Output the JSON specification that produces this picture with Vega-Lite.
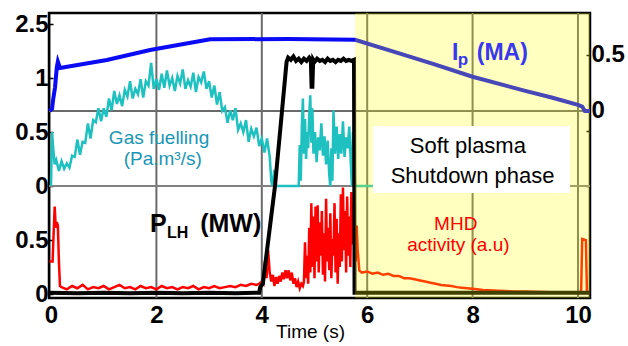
{
  "$schema": "https://vega.github.io/schema/vega-lite/v6.json",
  "width": 541,
  "height": 285,
  "autosize": {"type": "none"},
  "padding": {"left": 49, "top": 13, "right": 38, "bottom": 48},
  "background": "white",
  "config": {
    "view": {"stroke": "#000000", "strokeWidth": 2.5},
    "font": "Liberation Sans",
    "axis": {"labelFont": "Liberation Sans", "titleFont": "Liberation Sans", "labelOverlap": false, "labelFlush": false}
  },
  "datasets": {
    "gas": [
      {"t":0,"g":0},{"t":0.02,"g":0.5},{"t":0.04,"g":0.36},{"t":0.07,"g":0.2},
      {"t":0.10,"g":0.24},{"t":0.15,"g":0.14},{"t":0.20,"g":0.23},{"t":0.25,"g":0.16},{"t":0.30,"g":0.21},{"t":0.35,"g":0.17},{"t":0.40,"g":0.28},{"t":0.45,"g":0.27},{"t":0.50,"g":0.43},{"t":0.55,"g":0.29},
      {"t":0.60,"g":0.41},{"t":0.65,"g":0.40},{"t":0.70,"g":0.58},{"t":0.75,"g":0.44},{"t":0.80,"g":0.61},{"t":0.85,"g":0.59},{"t":0.90,"g":0.72},{"t":0.95,"g":0.60},{"t":1.00,"g":0.72},{"t":1.05,"g":0.64},
      {"t":1.10,"g":0.81},{"t":1.15,"g":0.70},{"t":1.20,"g":0.88},{"t":1.25,"g":0.76},{"t":1.30,"g":0.84},{"t":1.35,"g":0.74},{"t":1.40,"g":0.89},{"t":1.45,"g":0.83},{"t":1.50,"g":0.97},{"t":1.55,"g":0.81},
      {"t":1.60,"g":0.90},{"t":1.65,"g":0.85},{"t":1.70,"g":0.99},{"t":1.75,"g":0.82},{"t":1.80,"g":0.97},{"t":1.85,"g":0.93},{"t":1.90,"g":1.14},{"t":1.95,"g":0.90},{"t":2.00,"g":0.99},{"t":2.05,"g":0.89},
      {"t":2.10,"g":1.04},{"t":2.15,"g":0.91},{"t":2.20,"g":1.07},{"t":2.25,"g":0.93},{"t":2.30,"g":1.00},{"t":2.35,"g":0.88},{"t":2.40,"g":1.02},{"t":2.45,"g":0.95},{"t":2.50,"g":1.08},{"t":2.55,"g":0.90},
      {"t":2.60,"g":0.98},{"t":2.65,"g":0.92},{"t":2.70,"g":1.05},{"t":2.75,"g":0.87},{"t":2.80,"g":1.01},{"t":2.85,"g":0.96},{"t":2.90,"g":1.06},{"t":2.95,"g":0.90},{"t":3.00,"g":0.97},{"t":3.05,"g":0.82},
      {"t":3.10,"g":0.93},{"t":3.15,"g":0.755},{"t":3.20,"g":0.87},{"t":3.25,"g":0.695},{"t":3.30,"g":0.73},{"t":3.35,"g":0.585},{"t":3.40,"g":0.70},{"t":3.45,"g":0.61},{"t":3.50,"g":0.72},{"t":3.55,"g":0.52},
      {"t":3.60,"g":0.58},{"t":3.65,"g":0.50},{"t":3.70,"g":0.61},{"t":3.75,"g":0.41},{"t":3.80,"g":0.53},{"t":3.85,"g":0.46},{"t":3.90,"g":0.54},{"t":3.95,"g":0.37},{"t":4.00,"g":0.44},{"t":4.05,"g":0.31},
      {"t":4.10,"g":0.44},{"t":4.15,"g":0.27},{"t":4.18,"g":0.05},{"t":4.20,"g":0},{"t":4.24,"g":0.15},{"t":4.27,"g":0},{"t":4.70,"g":0},
      {"t":4.72,"g":0.38},{"t":4.74,"g":0.05},{"t":4.76,"g":0.55},{"t":4.78,"g":0.81},{"t":4.80,"g":0.3},{"t":4.82,"g":0.62},{"t":4.84,"g":0.25},{"t":4.86,"g":0.5},{"t":4.88,"g":0.35},{"t":4.90,"g":0.66},
      {"t":4.92,"g":0.84},{"t":4.94,"g":0.4},{"t":4.96,"g":0.72},{"t":4.98,"g":0.3},{"t":5.01,"g":0.5},{"t":5.04,"g":0.22},{"t":5.07,"g":0.45},{"t":5.10,"g":0.33},{"t":5.13,"g":0.58},{"t":5.16,"g":0.28},
      {"t":5.19,"g":0.46},{"t":5.22,"g":0.2},{"t":5.25,"g":0.42},{"t":5.28,"g":0.1},{"t":5.30,"g":0},{"t":5.32,"g":0.35},{"t":5.34,"g":0.05},{"t":5.36,"g":0.7},{"t":5.39,"g":0.3},{"t":5.42,"g":0.55},
      {"t":5.45,"g":0.25},{"t":5.48,"g":0.48},{"t":5.51,"g":0.3},{"t":5.54,"g":0.6},{"t":5.57,"g":0.27},{"t":5.60,"g":0.45},{"t":5.63,"g":0.35},{"t":5.66,"g":0.55},{"t":5.69,"g":0.2},{"t":5.71,"g":0},
      {"t":5.73,"g":0.5},{"t":5.75,"g":0.35},{"t":5.77,"g":0},{"t":6.3,"g":0}
    ],
    "ip": [
      {"t":-0.03,"ip":0},{"t":0.02,"ip":0.02},{"t":0.04,"ip":0.1},{"t":0.076,"ip":0.21},{"t":0.11,"ip":0.39},{"t":0.13,"ip":0.44},{"t":0.17,"ip":0.384},
      {"t":1.06,"ip":0.455},{"t":1.88,"ip":0.545},{"t":3.02,"ip":0.64},{"t":4.5,"ip":0.643},{"t":5.77,"ip":0.636},
      {"t":6.5,"ip":0.53},{"t":7.25,"ip":0.42},{"t":8.0,"ip":0.306},{"t":9.0,"ip":0.18},{"t":9.5,"ip":0.12},{"t":10.0,"ip":0.054},{"t":10.08,"ip":0.04},{"t":10.13,"ip":0},{"t":10.228,"ip":0}
    ],
    "mhd": [
      {"t":-0.03,"m":0.3},{"t":0.03,"m":0.3},{"t":0.05,"m":0.55},{"t":0.07,"m":0.79},{"t":0.09,"m":0.6},{"t":0.11,"m":0.65},{"t":0.13,"m":0.62},{"t":0.15,"m":0.3},{"t":0.17,"m":0.08},
      {"t":0.2,"m":0.07},{"t":0.3,"m":0.05},{"t":0.4,"m":0.08},{"t":0.5,"m":0.06},{"t":0.6,"m":0.09},{"t":0.7,"m":0.05},{"t":0.8,"m":0.07},{"t":0.9,"m":0.06},{"t":1.0,"m":0.08},{"t":1.1,"m":0.05},
      {"t":1.2,"m":0.07},{"t":1.3,"m":0.09},{"t":1.4,"m":0.06},{"t":1.5,"m":0.07},{"t":1.6,"m":0.05},{"t":1.7,"m":0.08},{"t":1.8,"m":0.06},{"t":1.9,"m":0.07},{"t":2.0,"m":0.05},{"t":2.1,"m":0.08},
      {"t":2.2,"m":0.06},{"t":2.3,"m":0.07},{"t":2.4,"m":0.05},{"t":2.5,"m":0.07},{"t":2.6,"m":0.06},{"t":2.7,"m":0.08},{"t":2.8,"m":0.05},{"t":2.9,"m":0.07},{"t":3.0,"m":0.06},{"t":3.1,"m":0.08},
      {"t":3.2,"m":0.06},{"t":3.3,"m":0.07},{"t":3.4,"m":0.08},{"t":3.5,"m":0.07},{"t":3.6,"m":0.09},{"t":3.7,"m":0.08},{"t":3.8,"m":0.1},{"t":3.9,"m":0.09},
      {"t":3.95,"m":0.1},{"t":4.0,"m":0.12},{"t":4.03,"m":0.1},{"t":4.06,"m":0.3},{"t":4.09,"m":0.15},{"t":4.12,"m":0.4},{"t":4.15,"m":0.2},{"t":4.18,"m":0.12},{"t":4.21,"m":0.18},{"t":4.24,"m":0.08},
      {"t":4.27,"m":0.16},{"t":4.30,"m":0.1},{"t":4.33,"m":0.17},{"t":4.36,"m":0.12},{"t":4.39,"m":0.2},{"t":4.42,"m":0.14},{"t":4.45,"m":0.22},{"t":4.48,"m":0.15},{"t":4.51,"m":0.22},{"t":4.54,"m":0.13},
      {"t":4.57,"m":0.2},{"t":4.60,"m":0.1},{"t":4.63,"m":0.15},{"t":4.66,"m":0.07},{"t":4.69,"m":0.12},{"t":4.72,"m":0.06},{"t":4.75,"m":0.1},{"t":4.78,"m":0.08},
      {"t":4.80,"m":0.12},{"t":4.82,"m":0.47},{"t":4.84,"m":0.15},{"t":4.86,"m":0.35},{"t":4.88,"m":0.1},{"t":4.90,"m":0.6},{"t":4.92,"m":0.2},{"t":4.94,"m":0.82},{"t":4.96,"m":0.25},{"t":4.98,"m":0.7},
      {"t":5.00,"m":0.15},{"t":5.02,"m":0.79},{"t":5.04,"m":0.3},{"t":5.06,"m":0.8},{"t":5.08,"m":0.2},{"t":5.10,"m":0.65},{"t":5.12,"m":0.35},{"t":5.14,"m":0.75},{"t":5.16,"m":0.18},{"t":5.18,"m":0.55},
      {"t":5.20,"m":0.12},{"t":5.22,"m":0.86},{"t":5.24,"m":0.3},{"t":5.26,"m":0.6},{"t":5.28,"m":0.22},{"t":5.30,"m":0.73},{"t":5.32,"m":0.15},{"t":5.34,"m":0.5},{"t":5.36,"m":0.35},{"t":5.38,"m":0.82},
      {"t":5.40,"m":0.2},{"t":5.42,"m":0.68},{"t":5.44,"m":0.1},{"t":5.46,"m":0.55},{"t":5.48,"m":0.25},{"t":5.50,"m":0.9},{"t":5.52,"m":0.3},{"t":5.54,"m":0.96},{"t":5.56,"m":0.4},{"t":5.58,"m":0.75},
      {"t":5.60,"m":0.2},{"t":5.62,"m":0.88},{"t":5.64,"m":0.35},{"t":5.66,"m":0.7},{"t":5.68,"m":0.25},{"t":5.70,"m":0.92},{"t":5.72,"m":0.45},{"t":5.74,"m":0.8},{"t":5.76,"m":0.65},{"t":5.78,"m":0.3},
      {"t":5.80,"m":0.62},{"t":5.82,"m":0.4},{"t":5.85,"m":0.22},{"t":5.9,"m":0.2},{"t":6.0,"m":0.21},{"t":6.1,"m":0.19},{"t":6.2,"m":0.2},{"t":6.3,"m":0.18},{"t":6.4,"m":0.19},{"t":6.5,"m":0.17},
      {"t":6.6,"m":0.17},{"t":6.7,"m":0.15},{"t":6.8,"m":0.15},{"t":6.9,"m":0.14},{"t":7.0,"m":0.13},{"t":7.1,"m":0.12},{"t":7.2,"m":0.11},{"t":7.3,"m":0.1},{"t":7.4,"m":0.09},{"t":7.5,"m":0.085},
      {"t":7.6,"m":0.08},{"t":7.7,"m":0.07},{"t":7.8,"m":0.065},{"t":7.9,"m":0.06},{"t":8.0,"m":0.055},{"t":8.2,"m":0.045},{"t":8.4,"m":0.04},{"t":8.6,"m":0.035},{"t":8.8,"m":0.03},{"t":9.0,"m":0.03},
      {"t":9.5,"m":0.025},{"t":10.0,"m":0.025},{"t":10.06,"m":0.03},{"t":10.08,"m":0.5},{"t":10.15,"m":0.49},{"t":10.17,"m":0.02},{"t":10.228,"m":0.02}
    ],
    "plh": [
      {"t":-0.03,"p":0.02},{"t":0.5,"p":0.015},{"t":1.0,"p":0.02},{"t":1.5,"p":0.015},{"t":2.0,"p":0.02},{"t":2.5,"p":0.015},{"t":3.0,"p":0.02},{"t":3.5,"p":0.015},{"t":3.95,"p":0.02},
      {"t":3.97,"p":0.07},{"t":4.02,"p":0.1},{"t":4.25,"p":0.97},{"t":4.47,"p":2.08},{"t":4.5,"p":2.12},{"t":4.55,"p":2.1},{"t":4.6,"p":2.13},{"t":4.65,"p":2.09},{"t":4.7,"p":2.11},{"t":4.75,"p":2.08},
      {"t":4.8,"p":2.11},{"t":4.85,"p":2.09},{"t":4.9,"p":2.12},{"t":4.93,"p":2.1},{"t":4.945,"p":1.86},{"t":4.96,"p":1.86},{"t":4.975,"p":2.1},{"t":5.0,"p":2.08},{"t":5.05,"p":2.11},{"t":5.1,"p":2.09},
      {"t":5.15,"p":2.1},{"t":5.2,"p":2.08},{"t":5.25,"p":2.11},{"t":5.3,"p":2.09},{"t":5.35,"p":2.1},{"t":5.4,"p":2.08},{"t":5.45,"p":2.1},{"t":5.5,"p":2.09},{"t":5.55,"p":2.11},{"t":5.6,"p":2.09},
      {"t":5.65,"p":2.1},{"t":5.7,"p":2.09},{"t":5.75,"p":2.1},{"t":5.76,"p":0.02},{"t":10.228,"p":0.02}
    ]
  },
  "layer": [
    {
      "data": {"values": [{"t": 2, "lo": -0.027, "hi": 2.518}, {"t": 4, "lo": -0.027, "hi": 2.518}, {"t": 6, "lo": -0.027, "hi": 2.518}, {"t": 8, "lo": -0.027, "hi": 2.518}, {"t": 10, "lo": -0.027, "hi": 2.518}]},
      "mark": {"type": "rule", "stroke": "#6a6a6a", "strokeWidth": 2},
      "encoding": {
        "x": {"field": "t", "type": "quantitative", "scale": {"domain": [-0.038, 10.228], "nice": false, "zero": false},
          "axis": {"values": [0, 2, 4, 6, 8, 10], "format": "d", "title": "Time (s)", "domain": false, "ticks": false, "grid": false,
            "labelFontSize": 24, "labelFontWeight": "bold", "labelColor": "#000000", "labelPadding": 5,
            "titleFontSize": 19, "titleFontWeight": "normal", "titleColor": "#000000", "titlePadding": -5, "titleX": 261}},
        "y": {"field": "lo", "type": "quantitative", "scale": {"domain": [-0.027, 2.518], "nice": false, "zero": false}, "axis": null},
        "y2": {"field": "hi"}
      }
    },
    {
      "data": {"values": [{"t": -0.038, "t2": 10.228, "g": 0}]},
      "mark": {"type": "rule", "stroke": "#808080", "strokeWidth": 2},
      "encoding": {
        "x": {"field": "t", "type": "quantitative"},
        "x2": {"field": "t2"},
        "y": {"field": "g", "type": "quantitative", "scale": {"domain": [-1.037, 1.602], "nice": false, "zero": false},
          "axis": {"orient": "left", "values": [-1, -0.5, 0, 0.5, 1, 1.5], "labelExpr": "datum.value == 1.5 ? '2.5' : datum.value == 1 ? '1' : datum.value == 0.5 ? '0.5' : datum.value == 0 ? '0' : datum.value == -0.5 ? '0.5' : '0'",
            "title": null, "domain": true, "domainColor": "#000000", "domainWidth": 1.5, "ticks": true, "tickSize": -4, "tickColor": "#000000", "tickWidth": 1.5, "grid": false,
            "labelFontSize": 24, "labelFontWeight": "bold", "labelColor": "#000000", "labelPadding": 5, "labelBaseline": "middle"}}
      }
    },
    {
      "data": {"values": [{"t": -0.038, "t2": 10.228, "ip": 0}]},
      "mark": {"type": "rule", "stroke": "#6a6a6a", "strokeWidth": 2},
      "encoding": {
        "x": {"field": "t", "type": "quantitative"},
        "x2": {"field": "t2"},
        "y": {"field": "ip", "type": "quantitative", "scale": {"domain": [-1.670, 0.875], "nice": false, "zero": false},
          "axis": {"orient": "right", "values": [0.5, 0, -0.18, -0.67], "labelExpr": "datum.value == 0.5 ? '0.5' : datum.value == 0 ? '0' : ''",
            "title": null, "domain": false, "ticks": true, "tickSize": -4, "tickColor": "#000000", "tickWidth": 1.5, "grid": false,
            "labelFontSize": 24, "labelFontWeight": "bold", "labelColor": "#000000", "labelPadding": 5, "labelBaseline": "middle"}}
      }
    },
    {
      "data": {"name": "gas"},
      "mark": {"type": "line", "color": "#1fc0c0", "strokeWidth": 2.5, "interpolate": "linear"},
      "encoding": {
        "x": {"field": "t", "type": "quantitative"},
        "y": {"field": "g", "type": "quantitative", "scale": {"domain": [-1.037, 1.602], "nice": false, "zero": false}, "axis": null}
      }
    },
    {
      "data": {"name": "ip"},
      "mark": {"type": "line", "color": "#0a0af5", "strokeWidth": 4},
      "encoding": {
        "x": {"field": "t", "type": "quantitative"},
        "y": {"field": "ip", "type": "quantitative", "scale": {"domain": [-1.670, 0.875], "nice": false, "zero": false}, "axis": null}
      }
    },
    {
      "data": {"name": "mhd"},
      "mark": {"type": "line", "color": "#ff0000", "strokeWidth": 2.5},
      "encoding": {
        "x": {"field": "t", "type": "quantitative"},
        "y": {"field": "m", "type": "quantitative", "scale": {"domain": [-0.027, 2.518], "nice": false, "zero": false}, "axis": null}
      }
    },
    {
      "data": {"name": "plh"},
      "mark": {"type": "line", "color": "#000000", "strokeWidth": 4},
      "encoding": {
        "x": {"field": "t", "type": "quantitative"},
        "y": {"field": "p", "type": "quantitative", "scale": {"domain": [-0.027, 2.518], "nice": false, "zero": false}, "axis": null}
      }
    },
    {
      "data": {"values": [{"t": 5.77, "t2": 10.228}]},
      "mark": {"type": "rect", "color": "#ffff00", "opacity": 0.25},
      "encoding": {
        "x": {"field": "t", "type": "quantitative"},
        "x2": {"field": "t2"}
      }
    },
    {
      "data": {"values": [{"t": 6.11, "t2": 9.85, "v": 0.911, "v2": 1.509}]},
      "mark": {"type": "rect", "color": "#ffffff", "opacity": 1},
      "encoding": {
        "x": {"field": "t", "type": "quantitative"},
        "x2": {"field": "t2"},
        "y": {"field": "v", "type": "quantitative", "scale": {"domain": [-0.027, 2.518], "nice": false, "zero": false}, "axis": null},
        "y2": {"field": "v2"}
      }
    },
    {
      "data": {"values": [{"t": 7.61, "v": 2.098, "s": "I"}, {"t": 8.08, "v": 2.098, "s": "(MA)"}]},
      "mark": {"type": "text", "font": "Liberation Sans", "fontWeight": "bold", "fontSize": 23, "color": "#3838f0", "align": "left", "baseline": "alphabetic"},
      "encoding": {
        "x": {"field": "t", "type": "quantitative"},
        "y": {"field": "v", "type": "quantitative", "scale": {"domain": [-0.027, 2.518], "nice": false, "zero": false}, "axis": null},
        "text": {"field": "s"}
      }
    },
    {
      "data": {"values": [{"t": 7.72, "v": 2.058, "s": "p"}]},
      "mark": {"type": "text", "font": "Liberation Sans", "fontWeight": "bold", "fontSize": 17, "color": "#3838f0", "align": "left", "baseline": "alphabetic"},
      "encoding": {
        "x": {"field": "t", "type": "quantitative"},
        "y": {"field": "v", "type": "quantitative", "scale": {"domain": [-0.027, 2.518], "nice": false, "zero": false}, "axis": null},
        "text": {"field": "s"}
      }
    },
    {
      "data": {"values": [{"t": 2.05, "v": 1.348, "s": "Gas fuelling"}, {"t": 2.12, "v": 1.161, "s": "(Pa.m³/s)"}]},
      "mark": {"type": "text", "font": "Liberation Sans", "fontSize": 19, "color": "#1896b4", "align": "center", "baseline": "alphabetic"},
      "encoding": {
        "x": {"field": "t", "type": "quantitative"},
        "y": {"field": "v", "type": "quantitative", "scale": {"domain": [-0.027, 2.518], "nice": false, "zero": false}, "axis": null},
        "text": {"field": "s"}
      }
    },
    {
      "data": {"values": [{"t": 7.91, "v": 1.268, "s": "Soft plasma"}, {"t": 8.0, "v": 1.0, "s": "Shutdown phase"}]},
      "mark": {"type": "text", "font": "Liberation Sans", "fontSize": 22, "color": "#000000", "align": "center", "baseline": "alphabetic"},
      "encoding": {
        "x": {"field": "t", "type": "quantitative"},
        "y": {"field": "v", "type": "quantitative", "scale": {"domain": [-0.027, 2.518], "nice": false, "zero": false}, "axis": null},
        "text": {"field": "s"}
      }
    },
    {
      "data": {"values": [{"t": 1.88, "v": 0.5625, "s": "P"}, {"t": 2.83, "v": 0.5625, "s": "(MW)"}]},
      "mark": {"type": "text", "font": "Liberation Sans", "fontWeight": "bold", "fontSize": 25, "color": "#000000", "align": "left", "baseline": "alphabetic"},
      "encoding": {
        "x": {"field": "t", "type": "quantitative"},
        "y": {"field": "v", "type": "quantitative", "scale": {"domain": [-0.027, 2.518], "nice": false, "zero": false}, "axis": null},
        "text": {"field": "s"}
      }
    },
    {
      "data": {"values": [{"t": 2.2, "v": 0.509, "s": "LH"}]},
      "mark": {"type": "text", "font": "Liberation Sans", "fontWeight": "bold", "fontSize": 16, "color": "#000000", "align": "left", "baseline": "alphabetic"},
      "encoding": {
        "x": {"field": "t", "type": "quantitative"},
        "y": {"field": "v", "type": "quantitative", "scale": {"domain": [-0.027, 2.518], "nice": false, "zero": false}, "axis": null},
        "text": {"field": "s"}
      }
    },
    {
      "data": {"values": [{"t": 7.68, "v": 0.58, "s": "MHD"}, {"t": 7.73, "v": 0.393, "s": "activity (a.u)"}]},
      "mark": {"type": "text", "font": "Liberation Sans", "fontSize": 19, "color": "#ff0000", "align": "center", "baseline": "alphabetic"},
      "encoding": {
        "x": {"field": "t", "type": "quantitative"},
        "y": {"field": "v", "type": "quantitative", "scale": {"domain": [-0.027, 2.518], "nice": false, "zero": false}, "axis": null},
        "text": {"field": "s"}
      }
    }
  ],
  "resolve": {"scale": {"y": "independent"}, "axis": {"y": "independent"}}
}
